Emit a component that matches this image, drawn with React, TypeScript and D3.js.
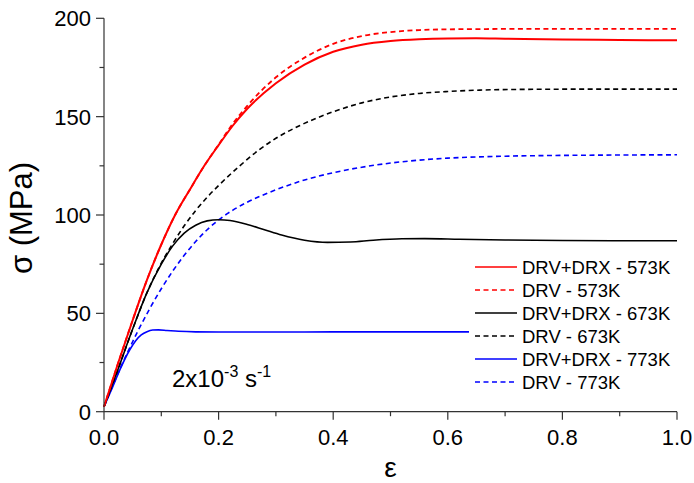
import React from "react";
import * as d3 from "d3";

// ---- data ----
const redSolidStrain = [0, 0.025, 0.05, 0.075, 0.1, 0.125, 0.15, 0.175, 0.2, 0.225, 0.25, 0.3, 0.35, 0.4, 0.45, 0.5, 0.55, 0.6, 0.65, 0.7, 0.8, 0.9, 1.0];
const redSolidStress = [2.5, 25, 46.5, 67, 85, 100.5, 113, 125, 135.5, 145.5, 154, 167, 176.5, 183, 186.6, 188.4, 189.3, 189.7, 189.8, 189.6, 189.2, 189, 188.8];

const redDashStrain = [0, 0.025, 0.05, 0.075, 0.1, 0.125, 0.15, 0.175, 0.2, 0.225, 0.25, 0.3, 0.35, 0.4, 0.45, 0.5, 0.55, 0.6, 0.65, 0.7, 0.8, 0.9, 1.0];
const redDashStress = [2.5, 25, 46.5, 67, 85, 100.5, 113, 125, 135.8, 146.5, 155.5, 170, 180, 187, 191, 193, 194, 194.4, 194.5, 194.6, 194.6, 194.6, 194.6];

const blackSolidStrain = [0, 0.025, 0.05, 0.075, 0.1, 0.12, 0.14, 0.16, 0.18, 0.2, 0.22, 0.25, 0.28, 0.31, 0.35, 0.39, 0.43, 0.47, 0.52, 0.56, 0.62, 0.7, 0.8, 0.9, 1.0];
const blackSolidStress = [2.5, 22, 42, 60.5, 75, 84.3, 90.8, 94.8, 97, 97.6, 97.2, 95.2, 92.5, 89.8, 87.2, 86.1, 86.3, 87.2, 87.9, 88, 87.7, 87.3, 87, 86.9, 86.9];

const blackDashStrain = [0, 0.025, 0.05, 0.075, 0.1, 0.12, 0.14, 0.16, 0.18, 0.2, 0.237, 0.27, 0.3, 0.342, 0.4, 0.45, 0.5, 0.55, 0.6, 0.656, 0.75, 0.85, 1.0];
const blackDashStress = [2.5, 22, 42, 60.5, 75.5, 85.5, 94.5, 102.3, 109, 115, 125, 133, 139, 145.5, 152.5, 157, 160, 161.8, 162.8, 163.5, 163.9, 164, 164];

const blueSolidStrain = [0, 0.015, 0.028, 0.045, 0.055, 0.065, 0.075, 0.085, 0.095, 0.11, 0.13, 0.16, 0.2, 0.3, 0.4, 0.5, 0.637];
const blueSolidStress = [2.5, 12.5, 21.5, 31.5, 36, 39, 40.7, 41.5, 41.6, 41.3, 40.9, 40.6, 40.5, 40.5, 40.6, 40.6, 40.6];

const blueDashStrain = [0, 0.02, 0.04, 0.06, 0.08, 0.1, 0.12, 0.14, 0.16, 0.18, 0.2, 0.225, 0.25, 0.3, 0.35, 0.4, 0.45, 0.5, 0.55, 0.6, 0.7, 0.8, 0.9, 1.0];
const blueDashStress = [2.5, 16.5, 29.5, 41.5, 52.5, 62.5, 71.5, 79.5, 86.5, 92.5, 97.5, 102.5, 106.5, 112.8, 117.8, 121.5, 124.3, 126.4, 127.9, 128.9, 129.9, 130.3, 130.5, 130.6];

const xMajorTicks = [0, 0.2, 0.4, 0.6, 0.8, 1.0];
const xMinorTicks = [0.1, 0.3, 0.5, 0.7, 0.9];
const yMajorTicks = [0, 50, 100, 150, 200];
const yMinorTicks = [25, 75, 125, 175];

const legendLabels = [
  "DRV+DRX - 573K",
  "DRV - 573K",
  "DRV+DRX - 673K",
  "DRV - 673K",
  "DRV+DRX - 773K",
  "DRV - 773K",
];

const FONT = "'Liberation Sans', Arial, Helvetica, sans-serif";

export default function App() {
  const width = 694;
  const height = 483;
  const left = 104;
  const right = 677;
  const top = 18.3;
  const bottom = 411.7;

  const x = d3.scaleLinear().domain([0, 1]).range([left, right]);
  const y = d3.scaleLinear().domain([0, 200]).range([bottom, top]);

  const line = d3
    .line<[number, number]>()
    .x((d) => x(d[0]))
    .y((d) => y(d[1]))
    .curve(d3.curveMonotoneX);

  const zip = (a: number[], b: number[]) => a.map((v, i) => [v, b[i]] as [number, number]);

  const series = [
    { pts: zip(redSolidStrain, redSolidStress), color: "#ff0000", dash: null, w: 2 },
    { pts: zip(redDashStrain, redDashStress), color: "#ff0000", dash: "5,3.5", w: 1.8 },
    { pts: zip(blackSolidStrain, blackSolidStress), color: "#000000", dash: null, w: 1.6 },
    { pts: zip(blackDashStrain, blackDashStress), color: "#000000", dash: "5,3.5", w: 1.6 },
    { pts: zip(blueSolidStrain, blueSolidStress), color: "#0000ff", dash: null, w: 1.6 },
    { pts: zip(blueDashStrain, blueDashStress), color: "#0000ff", dash: "5,3.5", w: 1.6 },
  ];

  const axisColor = "#333";
  const fmtX = d3.format(".1f");

  return (
    <svg
      width={width}
      height={height}
      style={{ position: "absolute", left: 0, top: 0, background: "#fff" }}
      fontFamily={FONT}
    >
      <rect x={0} y={0} width={width} height={height} fill="#fff" />

      {/* curves (drawn in reverse so red is on top) */}
      {series
        .slice()
        .reverse()
        .map((s, i) => (
          <path
            key={i}
            d={line(s.pts) || ""}
            fill="none"
            stroke={s.color}
            strokeWidth={s.w}
            strokeDasharray={s.dash || undefined}
          />
        ))}

      {/* axes */}
      <line x1={left} x2={left} y1={top} y2={bottom} stroke={axisColor} strokeWidth={1.2} />
      <line x1={left} x2={right} y1={bottom} y2={bottom} stroke={axisColor} strokeWidth={1.2} />

      {yMajorTicks.map((t) => (
        <g key={"ym" + t}>
          <line x1={left - 8} x2={left} y1={y(t)} y2={y(t)} stroke={axisColor} strokeWidth={1.2} />
          <text x={left - 13} y={y(t)} dy="0.36em" textAnchor="end" fontSize={22} fill="#000">
            {t}
          </text>
        </g>
      ))}
      {yMinorTicks.map((t) => (
        <line key={"yn" + t} x1={left - 4.5} x2={left} y1={y(t)} y2={y(t)} stroke={axisColor} strokeWidth={1.2} />
      ))}
      {xMajorTicks.map((t) => (
        <g key={"xm" + t}>
          <line x1={x(t)} x2={x(t)} y1={bottom} y2={bottom + 8} stroke={axisColor} strokeWidth={1.2} />
          <text x={x(t)} y={bottom + 33} textAnchor="middle" fontSize={22} fill="#000">
            {fmtX(t)}
          </text>
        </g>
      ))}
      {xMinorTicks.map((t) => (
        <line key={"xn" + t} x1={x(t)} x2={x(t)} y1={bottom} y2={bottom + 4.5} stroke={axisColor} strokeWidth={1.2} />
      ))}

      {/* axis titles */}
      <text
        transform={`translate(32, ${218}) rotate(-90)`}
        textAnchor="middle"
        fontSize={31}
        fill="#000"
      >
        σ (MPa)
      </text>
      <text x={(left + right) / 2} y={477} textAnchor="middle" fontSize={28} fill="#000">
        ε
      </text>

      {/* annotation */}
      <text x={172} y={387} fontSize={24} fill="#000">
        2x10
        <tspan dy={-10} fontSize={16}>-3</tspan>
        <tspan dy={10} fontSize={24}> s</tspan>
        <tspan dy={-10} fontSize={16}>-1</tspan>
      </text>

      {/* legend */}
      {legendLabels.map((lab, i) => {
        const s = series[i];
        const ly = 267 + i * 23;
        return (
          <g key={lab}>
            <line
              x1={475}
              x2={517}
              y1={ly}
              y2={ly}
              stroke={s.color}
              strokeWidth={1.6}
              strokeDasharray={s.dash ? "5,3.5" : undefined}
            />
            <text x={522} y={ly} dy="0.36em" fontSize={18.5} fill="#000">
              {lab}
            </text>
          </g>
        );
      })}
    </svg>
  );
}
